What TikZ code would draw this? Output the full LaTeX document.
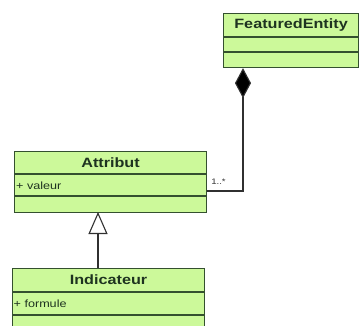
\documentclass[tikz,border=0pt]{standalone}
\usepackage{fontspec}
\setmainfont{Liberation Sans}
\newfontfamily\umlfont[FakeStretch=1.2]{Liberation Sans}
\usetikzlibrary{arrows.meta}
\definecolor{classfill}{HTML}{CCF99A}
\definecolor{classline}{HTML}{34502F}
\definecolor{classtext}{HTML}{1E3320}
\definecolor{linkgray}{HTML}{303030}
\tikzset{
  classbox/.style={draw=classline, fill=classfill, line width=1.1pt, inner sep=0pt, anchor=north west},
  divider/.style={draw=classline, line width=1.1pt},
  classname/.style={font=\umlfont\bfseries\fontsize{13.5}{15}\selectfont, text=classtext, inner sep=0pt},
  attr/.style={font=\umlfont\fontsize{10.5}{12}\selectfont, text=classtext, anchor=west, inner sep=0pt},
  mult/.style={font=\umlfont\fontsize{8}{9}\selectfont, text=linkgray, anchor=south west, inner sep=0pt},
  link/.style={draw=linkgray, line width=1.1pt},
}
\begin{document}
\begin{tikzpicture}[x=1pt,y=-1pt]
    \useasboundingbox (0,0) rectangle (359,325);
    % classes
    \node[classbox, minimum width=135pt, minimum height=54pt] (fe) at (223,13) {};
    \node[classbox, minimum width=192pt, minimum height=61pt] (att) at (14,151) {};
    \node[classbox, minimum width=192pt, minimum height=70pt] (ind) at (12,268) {};
    \draw[divider] ([yshift=-24pt]fe.north west) -- ([yshift=-24pt]fe.north east);
    \draw[divider] ([yshift=-39pt]fe.north west) -- ([yshift=-39pt]fe.north east);
    \draw[divider] ([yshift=-23pt]att.north west) -- ([yshift=-23pt]att.north east);
    \draw[divider] ([yshift=-45pt]att.north west) -- ([yshift=-45pt]att.north east);
    \draw[divider] ([yshift=-24pt]ind.north west) -- ([yshift=-24pt]ind.north east);
    \draw[divider] ([yshift=-47pt]ind.north west) -- ([yshift=-47pt]ind.north east);
    \node[classname] (fename) at ([yshift=-12pt]fe.north) {FeaturedEntity};
    \node[classname] (attname) at ([yshift=-11.5pt]att.north) {Attribut};
    \node[classname] (indname) at ([yshift=-12pt]ind.north) {Indicateur};
    \node[attr] (valeur) at ([xshift=2pt,yshift=-35pt]att.north west) {+ valeur};
    \node[attr] (formule) at ([xshift=1.5pt,yshift=-36pt]ind.north west) {+ formule};
    % links
    \coordinate (bend) at (243,191);
    \coordinate (gen) at (98,212);
    \draw[link, -{Diamond[width=16pt,length=30pt,fill=black]}] (att.east |- bend) -- (bend) -- (fe.south -| bend);
    \node[mult] (card) at ([xshift=4pt,yshift=6pt]att.east |- bend) {1..*};
    \draw[link, -{Triangle[width=19pt,length=22pt,fill=white]}] (ind.north -| gen) -- (gen);
\end{tikzpicture}
\end{document}
